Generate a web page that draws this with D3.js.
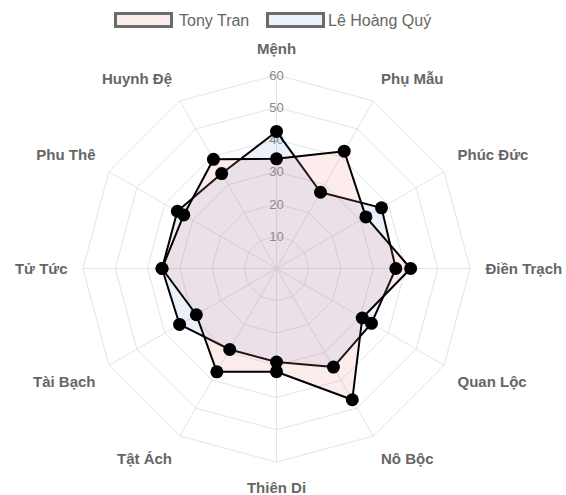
<!DOCTYPE html>
<html>
<head>
<meta charset="utf-8">
<script src="https://cdn.jsdelivr.net/npm/d3@7"></script>
<style>
  body { margin: 0; background: #fff; }
  svg { display: block; font-family: "Liberation Sans", Arial, sans-serif; }
</style>
</head>
<body>
<svg id="chart" width="566" height="495"></svg>
<script>
const labels = ["Mệnh", "Phụ Mẫu", "Phúc Đức", "Điền Trạch", "Quan Lộc", "Nô Bộc",
  "Thiên Di", "Tật Ách", "Tài Bạch", "Tử Tức", "Phu Thê", "Huynh Đệ"];
const tonyValues = [34, 42, 32, 41.6, 30.7, 47, 32, 37, 28.7, 35.5, 33.2, 39.1];
const leValues = [42.5, 27.3, 37.6, 37, 34, 35.3, 29, 29, 34.7, 35.5, 35.5, 34];
const seriesNames = ["Tony Tran", "Lê Hoàng Quý"];
const ticks = [10, 20, 30, 40, 50, 60];

const color = {
  grid: "#e4e4e4",
  tick: "#8a8a8a",
  label: "#666",
  tonyFill: "rgba(240, 128, 128, 0.15)",
  leFill: "rgba(50, 115, 205, 0.1)",
  line: "#000",
};

const svg = d3.select("#chart");
const cx = 276.5, cy = 268.5;

const r = d3.scaleLinear().domain([0, 60]).range([0, 193.5]);
const angle = d3.scaleLinear().domain([0, labels.length]).range([0, 2 * Math.PI]);

function pt(i, v) {
  const a = angle(i);
  return [cx + r(v) * Math.sin(a), cy - r(v) * Math.cos(a)];
}

// grid polygons
const grid = svg.append("g");
ticks.forEach(function (t) {
  grid.append("polygon")
    .attr("points", labels.map((d, i) => pt(i, t).join(",")).join(" "))
    .attr("fill", "none")
    .attr("stroke", color.grid)
    .attr("stroke-width", 1);
});
labels.forEach(function (d, i) {
  const p = pt(i, 60);
  grid.append("line")
    .attr("x1", cx).attr("y1", cy)
    .attr("x2", p[0]).attr("y2", p[1])
    .attr("stroke", color.grid)
    .attr("stroke-width", 1);
});

// tick labels
svg.append("g")
  .selectAll("text")
  .data(ticks)
  .join("text")
  .attr("x", cx)
  .attr("y", d => cy - r(d))
  .attr("dy", "0.35em")
  .attr("text-anchor", "middle")
  .attr("font-size", 13)
  .attr("fill", color.tick)
  .text(d => d);

// point labels
svg.append("g")
  .selectAll("text")
  .data(labels)
  .join("text")
  .each(function (d, i) {
    const deg = i * 30;
    const el = d3.select(this);
    let anchor = "middle", x, y;
    if (deg === 0 || deg === 180) {
      x = cx;
      y = deg === 0 ? cy - 219.5 : cy + 219;
    } else {
      const a = angle(i);
      x = cx + 209 * Math.sin(a);
      y = cy - 209 * Math.cos(a);
      anchor = deg < 180 ? "start" : "end";
      if (deg !== 90 && deg !== 270) y += (deg > 90 && deg < 270) ? 9 : -9;
    }
    el.attr("x", x).attr("y", y).attr("text-anchor", anchor);
  })
  .attr("dy", "0.35em")
  .attr("font-size", 15)
  .attr("font-weight", "bold")
  .attr("fill", color.label)
  .text(d => d);

// datasets, second drawn first
const line = d3.lineRadial()
  .angle((d, i) => angle(i))
  .radius(d => r(d))
  .curve(d3.curveLinearClosed);

const series = [
  { values: leValues, fill: color.leFill },
  { values: tonyValues, fill: color.tonyFill },
];

series.forEach(function (s) {
  const g = svg.append("g").attr("transform", `translate(${cx},${cy})`);
  g.append("path")
    .attr("d", line(s.values))
    .attr("fill", s.fill)
    .attr("stroke", color.line)
    .attr("stroke-width", 2)
    .attr("stroke-linejoin", "round");
});

series.forEach(function (s) {
  svg.append("g")
    .selectAll("circle")
    .data(s.values)
    .join("circle")
    .attr("cx", (d, i) => pt(i, d)[0])
    .attr("cy", (d, i) => pt(i, d)[1])
    .attr("r", 6.5)
    .attr("fill", "#000");
});

// legend
const legend = svg.append("g");
const legendItems = [
  { name: seriesNames[0], fill: color.tonyFill, bx: 115.5, tx: 179 },
  { name: seriesNames[1], fill: color.leFill, bx: 267.5, tx: 328 },
];
legendItems.forEach(function (d) {
  legend.append("rect")
    .attr("x", d.bx).attr("y", 13.5)
    .attr("width", 56).attr("height", 13)
    .attr("fill", d.fill)
    .attr("stroke", "#6b6b6b")
    .attr("stroke-width", 3);
  legend.append("text")
    .attr("x", d.tx).attr("y", 20)
    .attr("dy", "0.35em")
    .attr("font-size", 16)
    .attr("fill", "#666")
    .text(d.name);
});
</script>
</body>
</html>
